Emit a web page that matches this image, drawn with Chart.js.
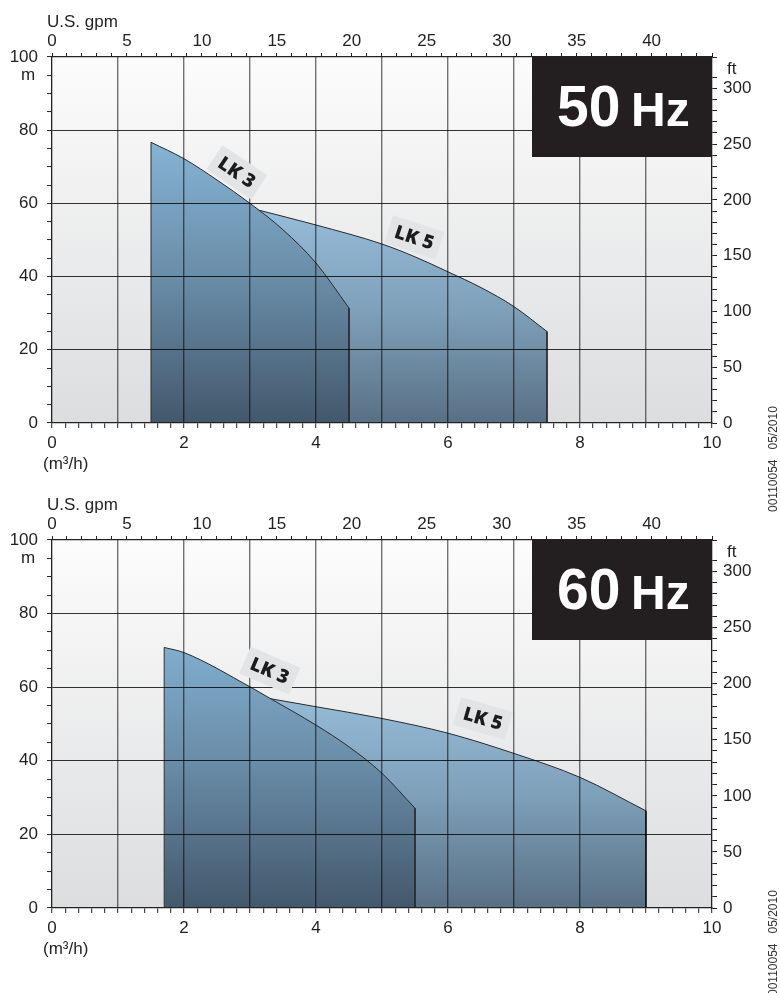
<!DOCTYPE html>
<html><head><meta charset="utf-8">
<script src="https://cdn.jsdelivr.net/npm/chart.js@4.4.1/dist/chart.umd.min.js"></script>
<style>
html,body{margin:0;padding:0;background:#fff;width:780px;height:993px;overflow:hidden}
.wrap{position:absolute;left:0;width:780px}
</style></head><body>
<div class="wrap" style="top:0;height:515px"><canvas id="c50"></canvas></div>
<div class="wrap" style="top:483px;height:510px"><canvas id="c60"></canvas></div>
<script>
// ---- data ----
const flowTicks = [0, 2, 4, 6, 8, 10];            // m3/h
const headTicks = [0, 20, 40, 60, 80, 100];       // m
const gpmTicks  = [0, 5, 10, 15, 20, 25, 30, 35, 40];
const ftTicks   = [0, 50, 100, 150, 200, 250, 300];

const lk3Flow50 = [1.5, 2.0, 2.5, 3.0, 3.5, 4.0, 4.5];
const lk3Head50 = [76.7, 72.2, 66.4, 60.0, 52.8, 43.7, 31.4];
const lk5Flow50 = [3.1, 4.0, 5.0, 5.5, 6.0, 6.5, 7.0, 7.5];
const lk5Head50 = [58.3, 54.1, 48.9, 45.4, 41.3, 37.0, 31.8, 25.0];

const lk3Flow60 = [1.7, 2.0, 3.0, 3.3, 4.0, 4.5, 5.0, 5.5];
const lk3Head60 = [70.8, 69.4, 60.1, 57.0, 49.7, 43.8, 36.6, 27.1];
const lk5Flow60 = [3.3, 4.0, 5.0, 6.0, 7.0, 8.0, 9.0];
const lk5Head60 = [56.9, 54.7, 51.5, 47.5, 42.0, 35.5, 26.4];

const M3H_TO_GPM = 4.402868;
const M_TO_FT = 3.280840;
const FONT = '"Liberation Sans", Arial, Helvetica, sans-serif';
const TXT = '#231f20';

function isOn(v, list) { return list.some(t => Math.abs(t - v) < 1e-6); }

function pts(f, h) { return f.map((x, i) => ({x: x, y: h[i]})); }
function edges(f, h) {
  const n = f.length - 1;
  return [{x: f[0], y: 0}, {x: f[0], y: h[0]}, {x: f[0], y: null}, {x: f[n], y: h[n]}, {x: f[n], y: 0}];
}
function grad(stops) {
  return (ctx) => {
    const c = ctx.chart;
    if (!c.chartArea) return stops[0][1];
    const ys = c.scales.y;
    const g = c.ctx.createLinearGradient(0, ys.getPixelForValue(stops[0][0]), 0, ys.getPixelForValue(stops[stops.length - 1][0]));
    const top = stops[0][0], bot = stops[stops.length - 1][0];
    stops.forEach(s => g.addColorStop((top - s[0]) / (top - bot), s[1]));
    return g;
  };
}

const extras = {
  id: 'extras',
  beforeDraw(chart) {
    const {ctx, chartArea: a} = chart;
    ctx.save();
    const g = ctx.createLinearGradient(0, a.top, 0, a.bottom);
    g.addColorStop(0, '#fcfcfc');
    g.addColorStop(1, '#dcdddf');
    ctx.fillStyle = g;
    ctx.fillRect(a.left, a.top, a.right - a.left, a.bottom - a.top);
    ctx.restore();
  },
  afterDraw(chart, args, o) {
    const {ctx, chartArea: a, scales} = chart;
    // curve labels
    o.labels.forEach(l => {
      const px = scales.x.getPixelForValue(l.x), py = scales.y.getPixelForValue(l.y);
      ctx.save();
      ctx.translate(px, py);
      ctx.rotate(l.angle * Math.PI / 180);
      ctx.fillStyle = '#e2e4e6';
      ctx.fillRect(-27, -14.5, 54, 29);
      ctx.fillStyle = '#1c1c1c';
      ctx.font = '800 19px "Open Sans", sans-serif';
      ctx.textAlign = 'center';
      ctx.textBaseline = 'middle';
      ctx.fillText(l.text, 0, 1);
      ctx.restore();
    });
    ctx.save();
    // badge
    ctx.fillStyle = '#231f20';
    ctx.fillRect(a.right - 180, a.top, 180, 100);
    ctx.fillStyle = '#ffffff';
    ctx.textAlign = 'left';
    ctx.textBaseline = 'alphabetic';
    ctx.font = 'bold 57px ' + FONT;
    ctx.fillText(o.hz, a.right - 155, a.top + 69);
    ctx.font = 'bold 48px ' + FONT;
    ctx.fillText('Hz', a.right - 81, a.top + 69);
    // axis names
    ctx.fillStyle = TXT;
    ctx.font = '17px ' + FONT;
    ctx.fillText('U.S. gpm', a.left - 5, a.top - 30);
    ctx.fillText('(m\u00b3/h)', a.left - 9, a.bottom + 46);
    ctx.fillText('ft', a.right + 15, a.top + 17);
    ctx.textAlign = 'center';
    ctx.fillText('m', 28, a.top + 23);
    // drawing code
    ctx.translate(774, a.bottom + o.codeOffset);
    ctx.rotate(-Math.PI / 2);
    ctx.textAlign = 'left';
    ctx.textBaseline = 'middle';
    ctx.font = '12px ' + FONT;
    ctx.fillStyle = '#333';
    ctx.fillText('00110054   05/2010', 0, 0);
    ctx.restore();
  }
};

function makeChart(id, hz, f3, h3, f5, h5, labels, bottomH, codeOffset) {
  const tickFont = {family: FONT, size: 17};
  const ds = [
    {data: edges(f3, h3), borderColor: '#2a2a2a', borderWidth: 1, pointRadius: 0, fill: false, tension: 0, spanGaps: false, order: 0},
    {data: pts(f3, h3), borderColor: '#2a2a2a', borderWidth: 1, pointRadius: 0, fill: 'origin', cubicInterpolationMode: 'monotone', order: 1,
      backgroundColor: grad([[80, '#88b6d8'], [40, '#6a8da8'], [0, '#43586c']])},
    {data: edges(f5, h5), borderColor: '#2a2a2a', borderWidth: 1, pointRadius: 0, fill: false, tension: 0, spanGaps: false, order: 2},
    {data: pts(f5, h5), borderColor: '#2a2a2a', borderWidth: 1, pointRadius: 0, fill: 'origin', cubicInterpolationMode: 'monotone', order: 3,
      backgroundColor: grad([[60, '#98bedb'], [30, '#7e9fb8'], [0, '#587085']])}
  ];
  return new Chart(document.getElementById(id), {
    type: 'line',
    data: {datasets: ds},
    plugins: [extras],
    options: {
      responsive: true, maintainAspectRatio: false, animation: false,
      layout: {padding: 0},
      plugins: {legend: {display: false}, tooltip: {enabled: false},
        extras: {hz: hz, labels: labels, codeOffset: codeOffset}},
      scales: {
        x: {type: 'linear', position: 'bottom', min: 0, max: 10,
          afterFit: s => { s.height = bottomH; },
          ticks: {stepSize: 0.2, autoSkip: false, maxRotation: 0, font: tickFont, color: TXT, padding: 5,
            callback: v => isOn(v, flowTicks) ? String(Math.round(v)) : ''},
          grid: {z: 1, color: c => isOn(c.tick.value, [1,2,3,4,5,6,7,8,9]) ? 'rgba(0,0,0,0.55)' : 'rgba(0,0,0,0)',
            lineWidth: 1.4, tickColor: '#222', tickLength: 5, tickWidth: 1},
          border: {display: true, color: '#222', width: 1.3, z: 1}},
        xTop: {type: 'linear', position: 'top', min: 0, max: 10 * M3H_TO_GPM,
          afterFit: s => { s.height = 57; },
          ticks: {stepSize: 1, autoSkip: false, maxRotation: 0, font: tickFont, color: TXT, padding: 1,
            callback: v => isOn(v, gpmTicks) ? String(Math.round(v)) : ''},
          grid: {z: 1, drawOnChartArea: false, tickColor: '#222', tickLength: 4, tickWidth: 1},
          border: {display: true, color: '#222', width: 1.3, z: 1}},
        y: {type: 'linear', position: 'left', min: 0, max: 100,
          afterFit: s => { s.width = 52; },
          ticks: {stepSize: 5, autoSkip: false, font: tickFont, color: TXT, padding: 9,
            callback: v => isOn(v, headTicks) ? String(Math.round(v)) : ''},
          grid: {z: 1, color: c => isOn(c.tick.value, [20,40,60,80]) ? 'rgba(0,0,0,0.8)' : 'rgba(0,0,0,0)',
            lineWidth: 1.1, tickColor: '#222', tickLength: 5, tickWidth: 1},
          border: {display: true, color: '#222', width: 1.3, z: 1}},
        yR: {type: 'linear', position: 'right', min: 0, max: 100 * M_TO_FT,
          afterFit: s => { s.width = 68; },
          ticks: {stepSize: 10, autoSkip: false, font: tickFont, color: TXT, padding: 6,
            callback: v => isOn(v, ftTicks) ? String(Math.round(v)) : ''},
          grid: {z: 1, drawOnChartArea: false, tickColor: '#222', tickLength: 5, tickWidth: 1},
          border: {display: true, color: '#222', width: 1.3, z: 1}}
      }
    }
  });
}

makeChart('c50', '50', lk3Flow50, lk3Head50, lk5Flow50, lk5Head50,
  [{text: 'LK 3', x: 2.80, y: 68.5, angle: 34}, {text: 'LK 5', x: 5.49, y: 50.7, angle: 18}], 92, 89);
makeChart('c60', '60', lk3Flow60, lk3Head60, lk5Flow60, lk5Head60,
  [{text: 'LK 3', x: 3.30, y: 64.5, angle: 23}, {text: 'LK 5', x: 6.53, y: 51.5, angle: 16}], 85, 88);
</script></body></html>
